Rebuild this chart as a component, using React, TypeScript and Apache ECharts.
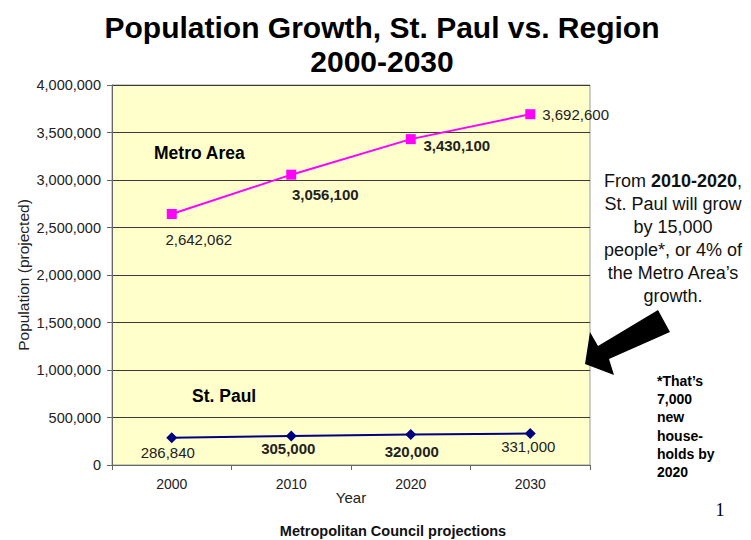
import React, { useEffect, useRef } from "react";
import * as echarts from "echarts";

const years = ["2000", "2010", "2020", "2030"];
const metroValues = [2642062, 3056100, 3430100, 3692600];
const stPaulValues = [286840, 305000, 320000, 331000];
const metroLabelBold = [false, true, true, false];
const stPaulLabelBold = [false, true, true, false];
const metroLabelOffsets = [[27, 25], [34, 20], [46, 6], [0, 0]];
const stPaulLabelOffsets = [[-4, 15], [-3, 12], [1, 17], [-2, 13]];
const yTicks = { min: 0, max: 4000000, interval: 500000 };

const FONT = "'Liberation Sans', Arial, sans-serif";
const fmt = (v: number) => v.toLocaleString("en-US");

export default function App() {
  const ref = useRef<HTMLDivElement>(null);
  useEffect(() => {
    if (!ref.current) return;
    const chart = echarts.init(ref.current, undefined, { renderer: "svg" });

    const metroData = metroValues.map((v, i) => ({
      value: v,
      label:
        i === 3
          ? {
              show: true,
              position: "right",
              distance: 7,
              align: "left",
              verticalAlign: "middle",
              fontWeight: "normal",
            }
          : {
              show: true,
              position: "inside",
              offset: metroLabelOffsets[i],
              align: "center",
              verticalAlign: "middle",
              fontWeight: metroLabelBold[i] ? "bold" : "normal",
            },
    }));
    const stPaulData = stPaulValues.map((v, i) => ({
      value: v,
      label: {
        show: true,
        position: "inside",
        offset: stPaulLabelOffsets[i],
        align: "center",
        verticalAlign: "middle",
        fontWeight: stPaulLabelBold[i] ? "bold" : "normal",
      },
    }));

    const rightLines = [
      "St. Paul will grow",
      "by 15,000",
      "people*, or 4% of",
      "the Metro Area\u2019s",
      "growth.",
    ];
    const footLines = ["*That\u2019s", "7,000", "new", "house-", "holds by", "2020"];
    const footY = [381, 399, 417, 436, 454, 472];

    const graphics: any[] = [
      {
        type: "text",
        x: 382,
        y: 27,
        style: {
          text: "Population Growth, St. Paul vs. Region",
          font: `bold 30px ${FONT}`,
          fill: "#000",
          align: "center",
          verticalAlign: "middle",
        },
      },
      {
        type: "text",
        x: 382,
        y: 61,
        style: {
          text: "2000-2030",
          font: `bold 30px ${FONT}`,
          fill: "#000",
          align: "center",
          verticalAlign: "middle",
        },
      },
      {
        type: "text",
        x: 154,
        y: 153,
        style: {
          text: "Metro Area",
          font: `bold 17.5px ${FONT}`,
          fill: "#000",
          align: "left",
          verticalAlign: "middle",
        },
      },
      {
        type: "text",
        x: 192,
        y: 396,
        style: {
          text: "St. Paul",
          font: `bold 17.5px ${FONT}`,
          fill: "#000",
          align: "left",
          verticalAlign: "middle",
        },
      },
      {
        type: "text",
        x: 673,
        y: 181,
        style: {
          text: "From {b|2010-2020},",
          font: `18px ${FONT}`,
          fill: "#111",
          align: "center",
          verticalAlign: "middle",
          rich: {
            b: { font: `bold 18px ${FONT}`, fill: "#111" },
          },
        },
      },
      ...rightLines.map((t, i) => ({
        type: "text",
        x: 673,
        y: 204 + i * 23,
        style: {
          text: t,
          font: `18px ${FONT}`,
          fill: "#111",
          align: "center",
          verticalAlign: "middle",
        },
      })),
      ...footLines.map((t, i) => ({
        type: "text",
        x: 657,
        y: footY[i],
        style: {
          text: t,
          font: `bold 14px ${FONT}`,
          fill: "#000",
          align: "left",
          verticalAlign: "middle",
        },
      })),
      {
        type: "polygon",
        shape: {
          points: [
            [585, 364],
            [590, 332],
            [598, 346],
            [658, 310],
            [670, 332],
            [609, 359],
            [614, 375],
          ],
        },
        style: { fill: "#000" },
      },
      {
        type: "text",
        x: 720,
        y: 510,
        style: {
          text: "1",
          font: `18px 'Liberation Serif', serif`,
          fill: "#000",
          align: "center",
          verticalAlign: "middle",
        },
      },
      {
        type: "text",
        x: 393,
        y: 531,
        style: {
          text: "Metropolitan Council projections",
          font: `bold 14.5px ${FONT}`,
          fill: "#111",
          align: "center",
          verticalAlign: "middle",
        },
      },
    ];

    chart.setOption({
      animation: false,
      backgroundColor: "#fff",
      textStyle: { fontFamily: FONT },
      grid: {
        left: 112,
        right: 161,
        top: 85,
        bottom: 75,
        show: true,
        backgroundColor: "#FFFFCC",
        borderColor: "#999",
        borderWidth: 1,
      },
      xAxis: {
        type: "category",
        data: years,
        boundaryGap: true,
        name: "Year",
        nameLocation: "middle",
        nameGap: 25,
        nameMoveOverlap: false,
        nameTextStyle: { fontSize: 15, color: "#222", fontFamily: FONT },
        axisLine: { lineStyle: { color: "#666", width: 1 } },
        axisTick: { show: true, length: 5, inside: false, lineStyle: { color: "#666" } },
        axisLabel: { fontSize: 14, color: "#222", margin: 12, fontFamily: FONT },
        splitLine: { show: false },
      },
      yAxis: {
        type: "value",
        min: yTicks.min,
        max: yTicks.max,
        interval: yTicks.interval,
        name: "Population (projected)",
        nameLocation: "middle",
        nameGap: 81,
        nameMoveOverlap: false,
        nameTextStyle: { fontSize: 15.5, color: "#222", fontFamily: FONT },
        axisLine: { show: true, lineStyle: { color: "#666", width: 1 } },
        axisTick: { show: true, length: 5, inside: false, lineStyle: { color: "#666" } },
        axisLabel: {
          fontSize: 14.5,
          color: "#222",
          margin: 11,
          fontFamily: FONT,
          formatter: (v: number) => fmt(v),
        },
        splitLine: { show: true, lineStyle: { color: "#3a3a3a", width: 1 } },
      },
      series: [
        {
          name: "Metro Area",
          type: "line",
          data: metroData,
          symbol: "rect",
          symbolSize: 10,
          itemStyle: { color: "#FF00FF" },
          lineStyle: { color: "#FF00FF", width: 2 },
          label: {
            show: true,
            color: "#222",
            fontSize: 15,
            fontFamily: FONT,
            formatter: (p: any) => fmt(p.value),
          },
          z: 3,
        },
        {
          name: "St. Paul",
          type: "line",
          data: stPaulData,
          symbol: "diamond",
          symbolSize: 11,
          itemStyle: { color: "#000080" },
          lineStyle: { color: "#000080", width: 2 },
          label: {
            show: true,
            color: "#222",
            fontSize: 15,
            fontFamily: FONT,
            formatter: (p: any) => fmt(p.value),
          },
          z: 3,
        },
      ],
      graphic: graphics,
    });

    return () => chart.dispose();
  }, []);

  return (
    <div
      ref={ref}
      style={{ position: "fixed", left: 0, top: 0, width: 751, height: 540 }}
    />
  );
}
